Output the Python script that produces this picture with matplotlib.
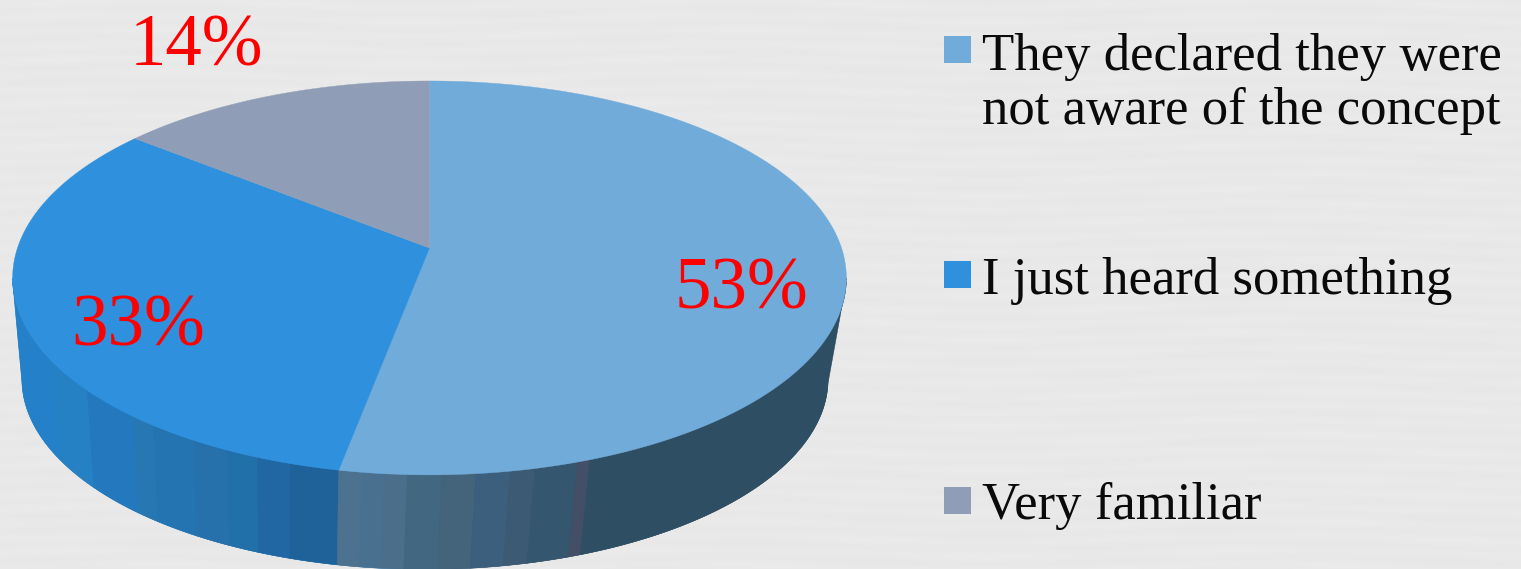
import numpy as np
import matplotlib
matplotlib.use("Agg")
import matplotlib.pyplot as plt
from matplotlib.patches import Polygon, Rectangle

categories = ["They declared they were\nnot aware of the concept", "I just heard something", "Very familiar"]
values = [53, 32.7, 14.3]
pct_labels = ["53%", "33%", "14%"]
colors = ["#70ABD9", "#2F90DD", "#8F9EB6"]

# visual shading bands of the rim: (right edge in px, colour)
band_edges = [52, 87, 133, 153, 193, 227, 257, 290, 338, 362, 384, 407, 442, 476, 510, 535, 577, 590, 900]
band_colors = ["#2480C8", "#2580C4", "#2479BE", "#2777B2", "#2474B2", "#2670AC", "#2270AA", "#2167A4", "#1F6299",
               "#4D7290", "#4A7090", "#4B6E8A", "#416880", "#44647C", "#3C5F7E", "#3D5A75", "#34566F",
               "#434F66", "#2E4E64"]

W, H = 1521, 569
BG = "#E8E8E8"
fig = plt.figure(figsize=(W / 100, H / 100), dpi=100, facecolor=BG)
ax = fig.add_axes([0, 0, 1, 1])
ax.set_xlim(0, W)
ax.set_ylim(H, 0)
ax.axis("off")

# faint paper-like background streaks
yy, xx = np.mgrid[0:H, 0:W]
paper = (232 + 0.9 * np.sin(yy / 2.3 + 1.5 * np.sin(xx / 90.0))
         + 0.8 * np.sin(yy / 7.1 + xx / 210.0) * np.sin(xx / 37.0)) / 255.0
ax.imshow(paper, cmap="gray", vmin=0, vmax=1, extent=(0, W, H, 0), aspect="auto", zorder=0, interpolation="bilinear")

K = 0.152


def project(t, r=1.0, cx=429.5, cy=248.0, s=1.0):
    u, v = r * np.cos(t), r * np.sin(t)
    w = 1 + K * v
    return cx + s * 412 * u / w, cy - s * 192.4 * v / w


def bottom(t):
    return project(t, cx=425.0, cy=350.0, s=0.967)


dense = np.radians(np.linspace(90, 450, 3601))
dx_top, _ = project(dense)
dx_bot, _ = bottom(dense)
t_left, t_right = dense[np.argmin(dx_top)], dense[np.argmax(dx_top)]
b_left, b_right = dense[np.argmin(dx_bot)], dense[np.argmax(dx_bot)]
t_front = np.radians(270.0)


def strip(t_a, t_b, color, z):
    seg_top = np.linspace(t_a, t_front if t_b is None else t_b, 400)
    return seg_top


# base of the rim: left and right halves with straight silhouette edges
for ta, tb, col in [(t_left, b_left, band_colors[0]), (t_right, b_right, band_colors[-1])]:
    xt, yt = project(np.linspace(ta, t_front, 400))
    xb, yb = bottom(np.linspace(t_front, tb, 400))
    ax.add_patch(Polygon(np.column_stack([np.r_[xt, xb], np.r_[yt, yb]]), closed=True, fc=col, ec=col, lw=0.3, zorder=1))

# shading bands across the front of the rim
ts = np.radians(np.linspace(190, 350, 1601))
tx, _ = project(ts)
band_idx = np.minimum(np.searchsorted(band_edges, tx), len(band_colors) - 1)
split = np.where(np.diff(band_idx) != 0)[0] + 1
for i0, i1 in zip(np.r_[0, split], np.r_[split, len(ts) - 1]):
    seg = ts[i0:i1 + 1]
    xt, yt = project(seg)
    xb, yb = bottom(seg)
    c = band_colors[band_idx[i0]]
    ax.add_patch(Polygon(np.column_stack([np.r_[xt, xb[::-1]], np.r_[yt, yb[::-1]]]), closed=True,
                         fc=c, ec=c, lw=0.4, zorder=2))

# top face; first slice runs clockwise from 12 o'clock
start = 90.0
total = sum(values)
for val, col in zip(values, colors):
    end = start - val / total * 360
    t = np.radians(np.linspace(start, end, 300))
    x, y = project(t)
    x0, y0 = project(0.0, r=0.0)
    ax.add_patch(Polygon(np.column_stack([np.r_[x0, x], np.r_[y0, y]]), closed=True, fc=col, ec=col, lw=0.3, zorder=3))
    start = end

serif = ["Liberation Serif", "DejaVu Serif"]
label_pos = [(741, 308), (138, 345), (196, 65)]
for lab, (lx, ly) in zip(pct_labels, label_pos):
    ax.text(lx, ly, lab, color="#FF0000", fontsize=52.5, family=serif, ha="center", va="baseline", zorder=5)

legend_y = [36, 261, 487]
text_y = [124, 294, 519]
for cat, col, ry, ty in zip(categories, colors, legend_y, text_y):
    ax.add_patch(Rectangle((944, ry), 27, 27, fc=col, ec="none", zorder=4))
    ax.text(982, ty, cat, color="#0A0A0A", fontsize=38, family=serif, ha="left", va="baseline",
            linespacing=1.17, zorder=5)

ax.set_xlim(0, W)
ax.set_ylim(H, 0)
fig.savefig("out.png", dpi=100, facecolor=BG)
